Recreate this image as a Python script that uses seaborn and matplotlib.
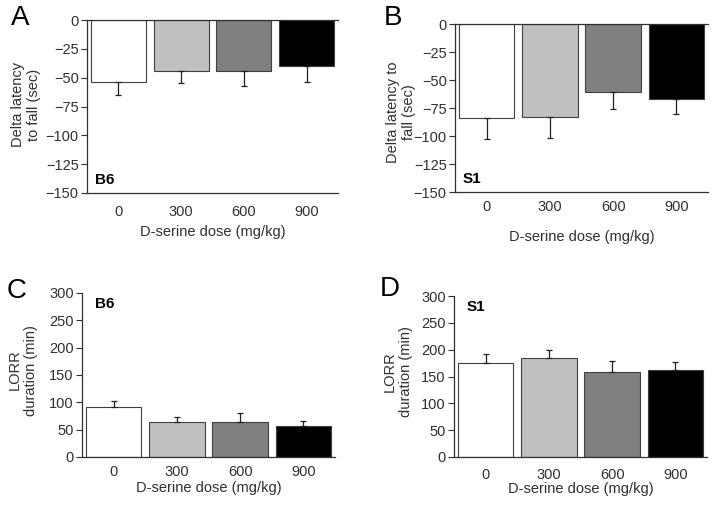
import numpy as np
import pandas as pd
import matplotlib
matplotlib.use("Agg")
import matplotlib.pyplot as plt
import seaborn as sns

# ---- data ----
DOSES = ["0", "300", "600", "900"]
BAR_COLORS = ["#ffffff", "#c0c0c0", "#808080", "#000000"]

A_MEAN = [-54, -44, -44.5, -40]     # B6 delta latency to fall
A_SEM = [11, 11, 12.5, 14]
B_MEAN = [-84, -83, -61, -67]       # S1 delta latency to fall
B_SEM = [19, 19, 15, 13.5]
C_MEAN = [92, 63.5, 63.5, 57]       # B6 LORR duration
C_SEM = [10, 9.5, 16.5, 9.5]
D_MEAN = [175, 184, 159, 163]       # S1 LORR duration
D_SEM = [16, 16, 20, 14]

TEXT = "#303030"
W, H = 714, 505

sns.set_style("white")
plt.rcParams["font.family"] = ["Liberation Sans", "DejaVu Sans"]
plt.rcParams["text.color"] = TEXT
plt.rcParams["axes.labelcolor"] = TEXT
plt.rcParams["xtick.color"] = TEXT
plt.rcParams["ytick.color"] = TEXT

fig = plt.figure(figsize=(W / 100, H / 100), dpi=100)


def make_axes(left, top, right, bottom):
    return fig.add_axes([left / W, 1 - bottom / H, (right - left) / W, (bottom - top) / H])


def draw_panel(ax, means, sems, ylim, yticks, ylabel, strain, strain_pos,
               negative, xpad, xlabelpad, ylab_xy):
    df = pd.DataFrame({"dose": DOSES, "value": means})
    sns.barplot(data=df, x="dose", y="value", hue="dose", palette=BAR_COLORS,
                legend=False, width=0.88, edgecolor="#404040", linewidth=0.8,
                errorbar=None, ax=ax)
    sems = np.array(sems)
    zeros = np.zeros_like(sems)
    yerr = [sems, zeros] if negative else [zeros, sems]
    ax.errorbar(np.arange(len(DOSES)), means, yerr=yerr, fmt="none",
                ecolor="#202020", elinewidth=0.9, capsize=2.5, capthick=0.9)
    ax.set_xlim(-0.5, 3.5)
    ax.set_ylim(*ylim)
    ax.set_yticks(yticks)
    ax.tick_params(axis="y", length=4, width=0.8, labelsize=10.5, pad=2, left=True)
    ax.tick_params(axis="x", length=0, labelsize=10.5, pad=xpad)
    ax.set_xlabel("D-serine dose (mg/kg)", fontsize=10.5, labelpad=xlabelpad)
    ax.set_ylabel(ylabel, fontsize=10.5, linespacing=1.2)
    ax.yaxis.label.set_va("center")
    ax.yaxis.set_label_coords(*ylab_xy)
    for side in ["left", "bottom", "top"]:
        ax.spines[side].set_color("#303030")
        ax.spines[side].set_linewidth(0.9)
    ax.spines["right"].set_visible(False)
    ax.spines["top"].set_visible(negative)
    ax.text(strain_pos[0], strain_pos[1], strain, transform=ax.transAxes,
            fontsize=11, fontweight="bold", color="#000000", va="center")


axA = make_axes(87, 20, 338, 193)
draw_panel(axA, A_MEAN, A_SEM, (-150, 0), np.arange(-150, 1, 25),
           "Delta latency\nto fall (sec)", "B6", (0.03, 0.075), True, 9, 4,
           (-0.243, 0.51))

axB = make_axes(455, 24, 708, 192)
draw_panel(axB, B_MEAN, B_SEM, (-150, 0), np.arange(-150, 1, 25),
           "Delta latency to\nfall (sec)", "S1", (0.03, 0.075), True, 6, 11,
           (-0.213, 0.476))

axC = make_axes(82, 293, 335, 457)
draw_panel(axC, C_MEAN, C_SEM, (0, 300), np.arange(0, 301, 50),
           "LORR\nduration (min)", "B6", (0.05, 0.93), False, 6, 1,
           (-0.233, 0.53))

axD = make_axes(454, 296, 707, 457)
draw_panel(axD, D_MEAN, D_SEM, (0, 300), np.arange(0, 301, 50),
           "LORR\nduration (min)", "S1", (0.05, 0.93), False, 8, 0,
           (-0.221, 0.53))

# panel letters
for letter, (px, py) in zip("ABCD", [(11, 5), (384, 5), (7, 278), (380, 276)]):
    fig.text(px / W, 1 - py / H, letter, fontsize=20, va="top", ha="left",
             color="#000000")

fig.savefig("out.png", dpi=100)
